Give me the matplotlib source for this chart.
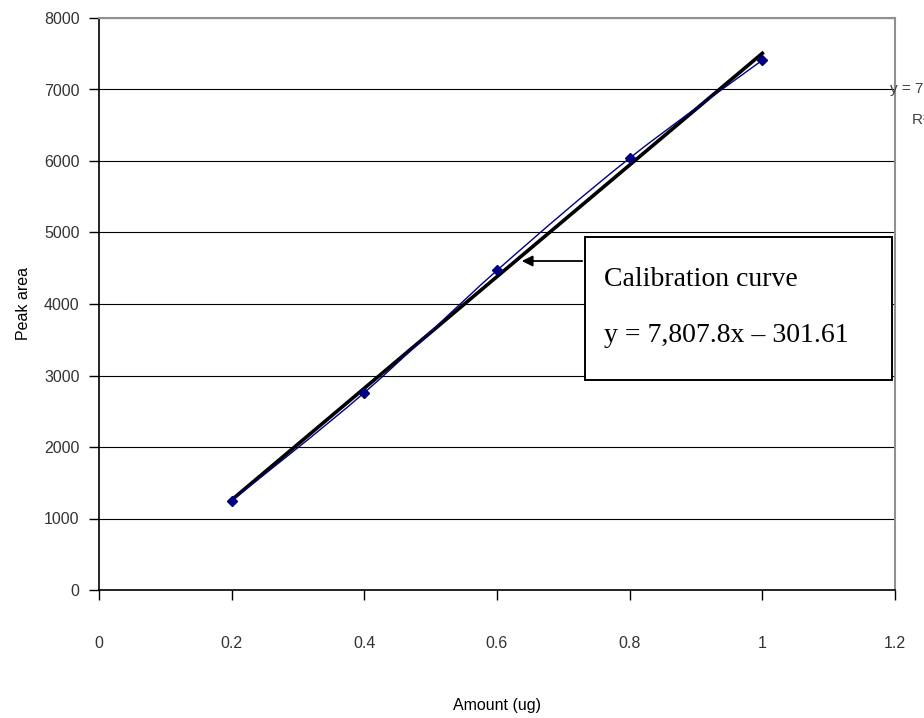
import numpy as np
import matplotlib.pyplot as plt
from matplotlib.path import Path
from matplotlib.patches import PathPatch

amount = [0.2, 0.4, 0.6, 0.8, 1.0]
peak_area = [1250, 2760, 4470, 6040, 7410]
slope, intercept = 7807.8, -301.61

x_ticks = [0, 0.2, 0.4, 0.6, 0.8, 1.0, 1.2]
x_labels = ["0", "0.2", "0.4", "0.6", "0.8", "1", "1.2"]
y_ticks = [0, 1000, 2000, 3000, 4000, 5000, 6000, 7000, 8000]

plt.rcParams['font.family'] = ['Liberation Sans', 'DejaVu Sans']

fig = plt.figure(figsize=(9.24, 7.18), dpi=100)
ax = fig.add_axes([99/924, 1 - 590/718, 796/924, 572/718])

# smoothed data line (Catmull-Rom as cubic bezier segments)
px = np.array(amount, dtype=float)
py = np.array(peak_area, dtype=float)
verts = [(px[0], py[0])]
codes = [Path.MOVETO]
n = len(px)
for i in range(n - 1):
    p0 = (px[max(i-1, 0)], py[max(i-1, 0)])
    p1 = (px[i], py[i])
    p2 = (px[i+1], py[i+1])
    p3 = (px[min(i+2, n-1)], py[min(i+2, n-1)])
    c1 = (p1[0] + (p2[0]-p0[0])/6, p1[1] + (p2[1]-p0[1])/6)
    c2 = (p2[0] - (p3[0]-p1[0])/6, p2[1] - (p3[1]-p1[1])/6)
    verts += [c1, c2, p2]
    codes += [Path.CURVE4] * 3
ax.add_patch(PathPatch(Path(verts, codes), facecolor='none', edgecolor='#000080', lw=1.0, zorder=3))
ax.plot(amount, peak_area, linestyle='none', marker='D', ms=5, color='#000080', zorder=4)

# linear trendline
tx = np.array([amount[0], amount[-1]])
ax.plot(tx, slope*tx + intercept, color='black', lw=2.6, zorder=2)

ax.set_xlim(0, 1.2)
ax.set_ylim(0, 8000)
ax.set_xticks(x_ticks)
ax.set_xticklabels(x_labels)
ax.set_yticks(y_ticks)
ax.yaxis.grid(True, color='black', lw=0.8)
ax.set_axisbelow(True)
ax.tick_params(axis='x', direction='out', length=7, width=1, pad=26, labelsize=11.5, labelcolor='#333333')
ax.tick_params(axis='y', direction='out', length=7, width=1, pad=7, labelsize=11.5, labelcolor='#333333')
for s in ['top', 'right']:
    ax.spines[s].set_color('#909090')
    ax.spines[s].set_linewidth(1.5)
for s in ['left', 'bottom']:
    ax.spines[s].set_linewidth(1.2)

ax.set_xlabel('Amount (ug)', fontsize=11.5, labelpad=34)
ax.set_ylabel('Peak area', fontsize=11.5, labelpad=9)

# annotation box with arrow
ax.annotate('', xy=(519/924, 1 - 261/718), xycoords='figure fraction',
            xytext=(585/924, 1 - 261/718), textcoords='figure fraction',
            arrowprops=dict(arrowstyle='-|>', color='black', lw=1.3, mutation_scale=16))
box = plt.Rectangle((585/924, 1 - 380/718), 307/924, 143/718, transform=fig.transFigure,
                    facecolor='white', edgecolor='black', lw=1.4, zorder=5)
fig.add_artist(box)
fig.text(604/924, 1 - 280/718, 'Calibration curve', family=['Liberation Serif'], fontsize=20,
         va='center', ha='left', zorder=6)
fig.text(604/924, 1 - 336/718, 'y = 7,807.8x \u2013 301.61', family=['Liberation Serif'], fontsize=20,
         va='center', ha='left', zorder=6)

# trendline label running past the figure edge
fig.text(890/924, 1 - 89/718, 'y = 7807.8x - 301.61', fontsize=11, va='center', ha='left', color='#404040')
fig.text(912/924, 1 - 120/718, 'R\u00b2 = 0.9985', fontsize=11, va='center', ha='left', color='#404040')

fig.savefig('out.png', dpi=100)
